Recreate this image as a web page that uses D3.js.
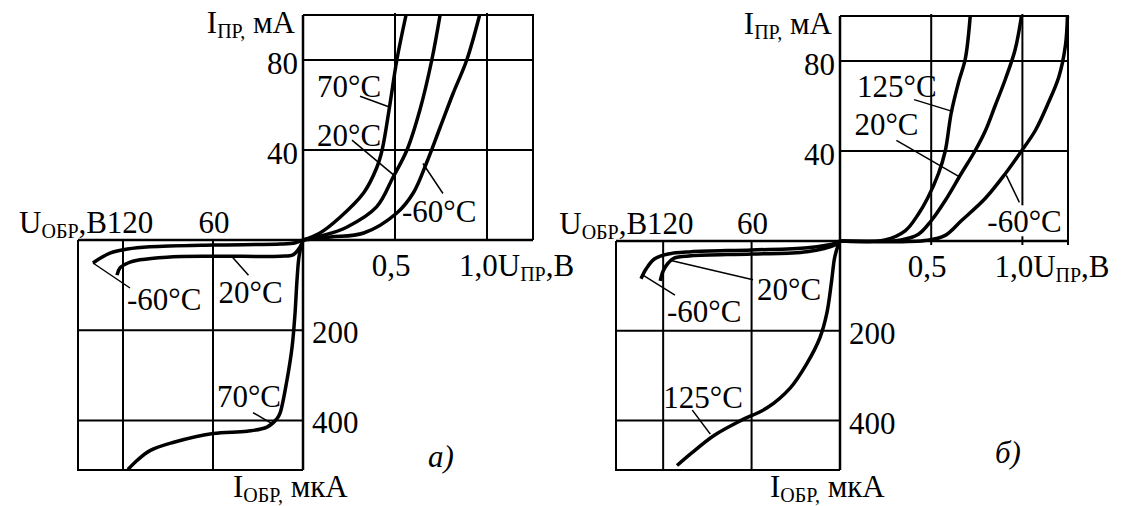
<!DOCTYPE html>
<html>
<head>
<meta charset="utf-8">
<script src="https://cdn.jsdelivr.net/npm/d3@7"></script>
<style>
  body { margin: 0; background: #fff; }
  svg text { font-family: "Liberation Serif", "Times New Roman", serif; font-size: 31px; fill: #000; }
</style>
</head>
<body>
<svg id="chart" width="1125" height="506"></svg>
<script>
// forward branch: [U, V ; I, mA]   reverse branch: [U, V ; I, uA]
// panel a)
var fwdA_70  = [[0,0],[0.09,3],[0.2,10],[0.33,21],[0.4,32],[0.43,40],[0.47,59],[0.51,80],[0.56,100]];
var fwdA_20  = [[0,0],[0.11,2],[0.24,5.8],[0.4,14.7],[0.49,28],[0.565,40],[0.636,58],[0.7,80],[0.745,100]];
var fwdA_m60 = [[0,0],[0.15,1.3],[0.33,3.1],[0.51,12],[0.6,21],[0.67,34],[0.745,50],[0.815,65],[0.89,80],[0.96,100]];
var revA_m60 = [[0,0],[5,6],[15,9],[60,11],[102,15],[117,20],[128.7,29],[135,40],[140,51]];
var revA_20  = [[0,0],[0.7,7],[3.3,22],[6.7,33],[15,36],[60,36],[90.7,38],[108.7,44],[116.7,51],[122,62],[124,78]];
var revA_70  = [[0,0],[0.7,7],[2.7,38],[4,89],[5.3,162],[7.3,238],[10.7,311],[15.3,384],[17.3,396],[24,415],
                [37.3,424],[60,429],[86.7,449],[102,467],[110.7,489],[116.7,509]];
// panel б)
var fwdB_125 = [[0,0],[0.247,0.5],[0.357,4.5],[0.43,12],[0.48,19],[0.54,30],[0.577,40],[0.61,57],[0.65,70.5],[0.687,81],[0.714,100]];
var fwdB_20  = [[0,0],[0.335,0.5],[0.43,3],[0.5,9],[0.577,18],[0.665,30],[0.74,40],[0.797,49],[0.85,60],[0.907,72],[0.96,85],[0.995,100]];
var fwdB_m60 = [[0,0],[0.48,0.3],[0.577,2.5],[0.665,9],[0.797,19],[0.907,30],[0.995,40],[1.07,49],[1.14,61],[1.2,73],[1.236,87],[1.247,100]];
var revB_m60 = [[0,0],[3,5],[22,15],[60,20],[101,24],[116.6,29],[126,40],[131.5,62],[135,84]];
var revB_20  = [[0,0],[3,8],[22.5,24],[60,29],[101,33],[112.6,38],[116.6,49],[120,67],[122,89]];
var revB_125 = [[0,0],[1.4,11],[3.7,38],[5.7,89],[9,162],[13.7,216],[22.5,273],[33.7,327],[49.2,371],[67.4,400],
                [85.5,433],[101,473],[110.6,500]];

// ticks / grid
var fwdUTicks = [0.5, 1.0];
var fwdITicks = [40, 80];
var revUTicks = [60, 120];
var revITicks = [200, 400];
var fwdUTickLabels = ["0,5", "1,0"];

var svg = d3.select("#chart");

function richText(g, x, y, parts, anchor) {
  var t = g.append("text").attr("x", x).attr("y", y).attr("text-anchor", anchor || "start");
  var prevSub = false;
  parts.forEach(function(p) {
    var s = t.append("tspan").text(p[0]);
    if (p[1]) { s.attr("font-size", 20).attr("dy", prevSub ? 0 : 5); }
    else if (prevSub) { s.attr("dy", -5); }
    prevSub = !!p[1];
  });
  return t;
}

function drawPanel(cfg) {
  var g = svg.append("g");

  var xF = d3.scaleLinear().domain([0, 1.25]).range([cfg.ox, cfg.right]);
  var yF = d3.scaleLinear().domain([0, 100]).range([cfg.oy, cfg.top]);
  var xR = d3.scaleLinear().domain([0, cfg.uRmax]).range([cfg.ox, cfg.left]);
  var yR = d3.scaleLinear().domain([0, 510]).range([cfg.oy, cfg.bottom]);

  var lineF = d3.line().curve(d3.curveCatmullRom.alpha(0.5)).x(d => xF(d[0])).y(d => yF(d[1]));
  var lineR = d3.line().curve(d3.curveCatmullRom.alpha(0.5)).x(d => xR(d[0])).y(d => yR(d[1]));

  // grid
  var grid = g.append("g").attr("stroke", "#000").attr("stroke-width", 2).attr("fill", "none");
  grid.selectAll(".vf").data(fwdUTicks).enter().append("line")
      .attr("x1", d => xF(d)).attr("x2", d => xF(d)).attr("y1", yF(100) - 2).attr("y2", cfg.oy + cfg.tickDown);
  grid.selectAll(".hf").data(fwdITicks).enter().append("line")
      .attr("x1", cfg.ox).attr("x2", xF(1.25)).attr("y1", d => yF(d)).attr("y2", d => yF(d));
  grid.selectAll(".vr").data(revUTicks).enter().append("line")
      .attr("x1", d => xR(d)).attr("x2", d => xR(d)).attr("y1", cfg.oy).attr("y2", yR(510));
  grid.selectAll(".hr").data(revITicks).enter().append("line")
      .attr("x1", cfg.ox).attr("x2", xR(cfg.uRmax)).attr("y1", d => yR(d)).attr("y2", d => yR(d));
  // frames
  grid.append("path").attr("d", "M" + xF(0) + "," + yF(100) + "H" + xF(1.25) + "V" + (cfg.oy + cfg.tickDown));
  grid.append("path").attr("d", "M" + xR(0) + "," + yR(510) + "H" + xR(cfg.uRmax) + "V" + cfg.oy);

  // curve labels (drawn before curves and axes so a label background never hides them)
  var leaders = g.append("g").attr("stroke", "#000").attr("stroke-width", 1.5);
  cfg.notes.forEach(function(n) {
    var px = n.q == "f" ? xF(n.at[0]) : xR(n.at[0]);
    var py = n.q == "f" ? yF(n.at[1]) : yR(n.at[1]);
    var t = g.append("text").attr("x", px + n.t[0]).attr("y", py + n.t[1]).text(n.text);
    if (n.bg) {
      var b = t.node().getBBox();
      g.insert("rect", "text").attr("x", b.x - 1).attr("y", py + n.t[1] - 27).attr("width", b.width + 6)
          .attr("height", 31).attr("fill", "#fff");
    }
    leaders.append("line").attr("x1", px).attr("y1", py).attr("x2", px + n.d[0]).attr("y2", py + n.d[1]);
  });

  // axes
  g.append("line").attr("x1", xR(cfg.uRmax)).attr("x2", xF(1.25)).attr("y1", cfg.oy).attr("y2", cfg.oy)
      .attr("stroke", "#000").attr("stroke-width", 2.5);
  g.append("line").attr("x1", cfg.ox).attr("x2", cfg.ox).attr("y1", yF(100)).attr("y2", yR(510))
      .attr("stroke", "#000").attr("stroke-width", 2.5);

  g.selectAll(".cf").data(cfg.fwd).enter().append("path")
      .attr("d", d => lineF(d)).attr("fill", "none").attr("stroke", "#000").attr("stroke-width", 3.5);
  g.selectAll(".cr").data(cfg.rev).enter().append("path")
      .attr("d", d => lineR(d)).attr("fill", "none").attr("stroke", "#000").attr("stroke-width", 3.5);

  // tick labels
  g.selectAll(".tif").data(fwdITicks).enter().append("text")
      .attr("x", cfg.ox - 5).attr("y", d => yF(d) + 14).attr("text-anchor", "end").text(d => d);
  g.selectAll(".tir").data(revITicks).enter().append("text")
      .attr("x", cfg.ox + 9).attr("y", d => yR(d) + 13).text(d => d);
  g.append("text").attr("x", xR(revUTicks[0]) + 1).attr("y", cfg.oy - 7).attr("text-anchor", "middle").text(revUTicks[0]);
  g.append("text").attr("x", xR(revUTicks[1]) + 7).attr("y", cfg.oy - 7).attr("text-anchor", "middle").text(revUTicks[1]);
  richText(g, xR(revUTicks[1]) - 16, cfg.oy - 7, [["U"], ["ОБР", 1], [",В"]], "end");
  g.append("text").attr("x", xF(fwdUTicks[0]) - 4).attr("y", cfg.oy + 36).attr("text-anchor", "middle").text(fwdUTickLabels[0]);
  richText(g, xF(fwdUTicks[1]) - 28, cfg.oy + 36, [[fwdUTickLabels[1] + "U"], ["ПР", 1], [",В"]]);
  richText(g, cfg.ox - 8, yF(100) + 18, [["I"], ["ПР,", 1], [" мА"]], "end");
  richText(g, cfg.ox - 70, cfg.bottom + 27, [["I"], ["ОБР,", 1], [" мкА"]]);

  g.append("text").attr("x", cfg.ox + cfg.letterDx).attr("y", cfg.letterY)
      .attr("font-style", "italic").text(cfg.letter);
}

drawPanel({
  ox: 303, oy: 240, right: 533, top: 15, left: 78, bottom: 470, uRmax: 150, tickDown: 0,
  fwd: [fwdA_70, fwdA_20, fwdA_m60], rev: [revA_m60, revA_20, revA_70],
  letter: "а)", letterDx: 125, letterY: 467,
  notes: [
    {q: "f", at: [0.473, 59], d: [-30, -11], t: [-73, -10], text: "70°C"},
    {q: "f", at: [0.5, 28.4], d: [-43, -36], t: [-78, -30], text: "20°C"},
    {q: "f", at: [0.652, 34], d: [20, 30], t: [-21, 58], text: "-60°C"},
    {q: "r", at: [140, 51], d: [37, 25], t: [34, 47], text: "-60°C"},
    {q: "r", at: [47, 38], d: [16, 18], t: [-14, 46], text: "20°C"},
    {q: "r", at: [20.7, 407], d: [-19, -11], t: [-55, -17], text: "70°C"}
  ]
});

drawPanel({
  ox: 840, oy: 241, right: 1068, top: 16, left: 616, bottom: 470, uRmax: 152, tickDown: 4,
  fwd: [fwdB_125, fwdB_20, fwdB_m60], rev: [revB_m60, revB_20, revB_125],
  letter: "б)", letterDx: 155, letterY: 463,
  notes: [
    {q: "f", at: [0.62, 57.5], d: [-39, -12], t: [-96, -15], text: "125°C"},
    {q: "f", at: [0.66, 28.3], d: [-64, -37], t: [-106, -42], text: "20°C"},
    {q: "f", at: [0.912, 29.2], d: [13, 27], t: [-19, 57], text: "-60°C", bg: true},
    {q: "r", at: [114, 44], d: [81, 19], t: [85, 39], text: "20°C"},
    {q: "r", at: [133.7, 76], d: [32, 20], t: [24, 47], text: "-60°C"},
    {q: "r", at: [88, 430], d: [-18, -24], t: [-47, -26], text: "125°C"}
  ]
});
</script>
</body>
</html>
